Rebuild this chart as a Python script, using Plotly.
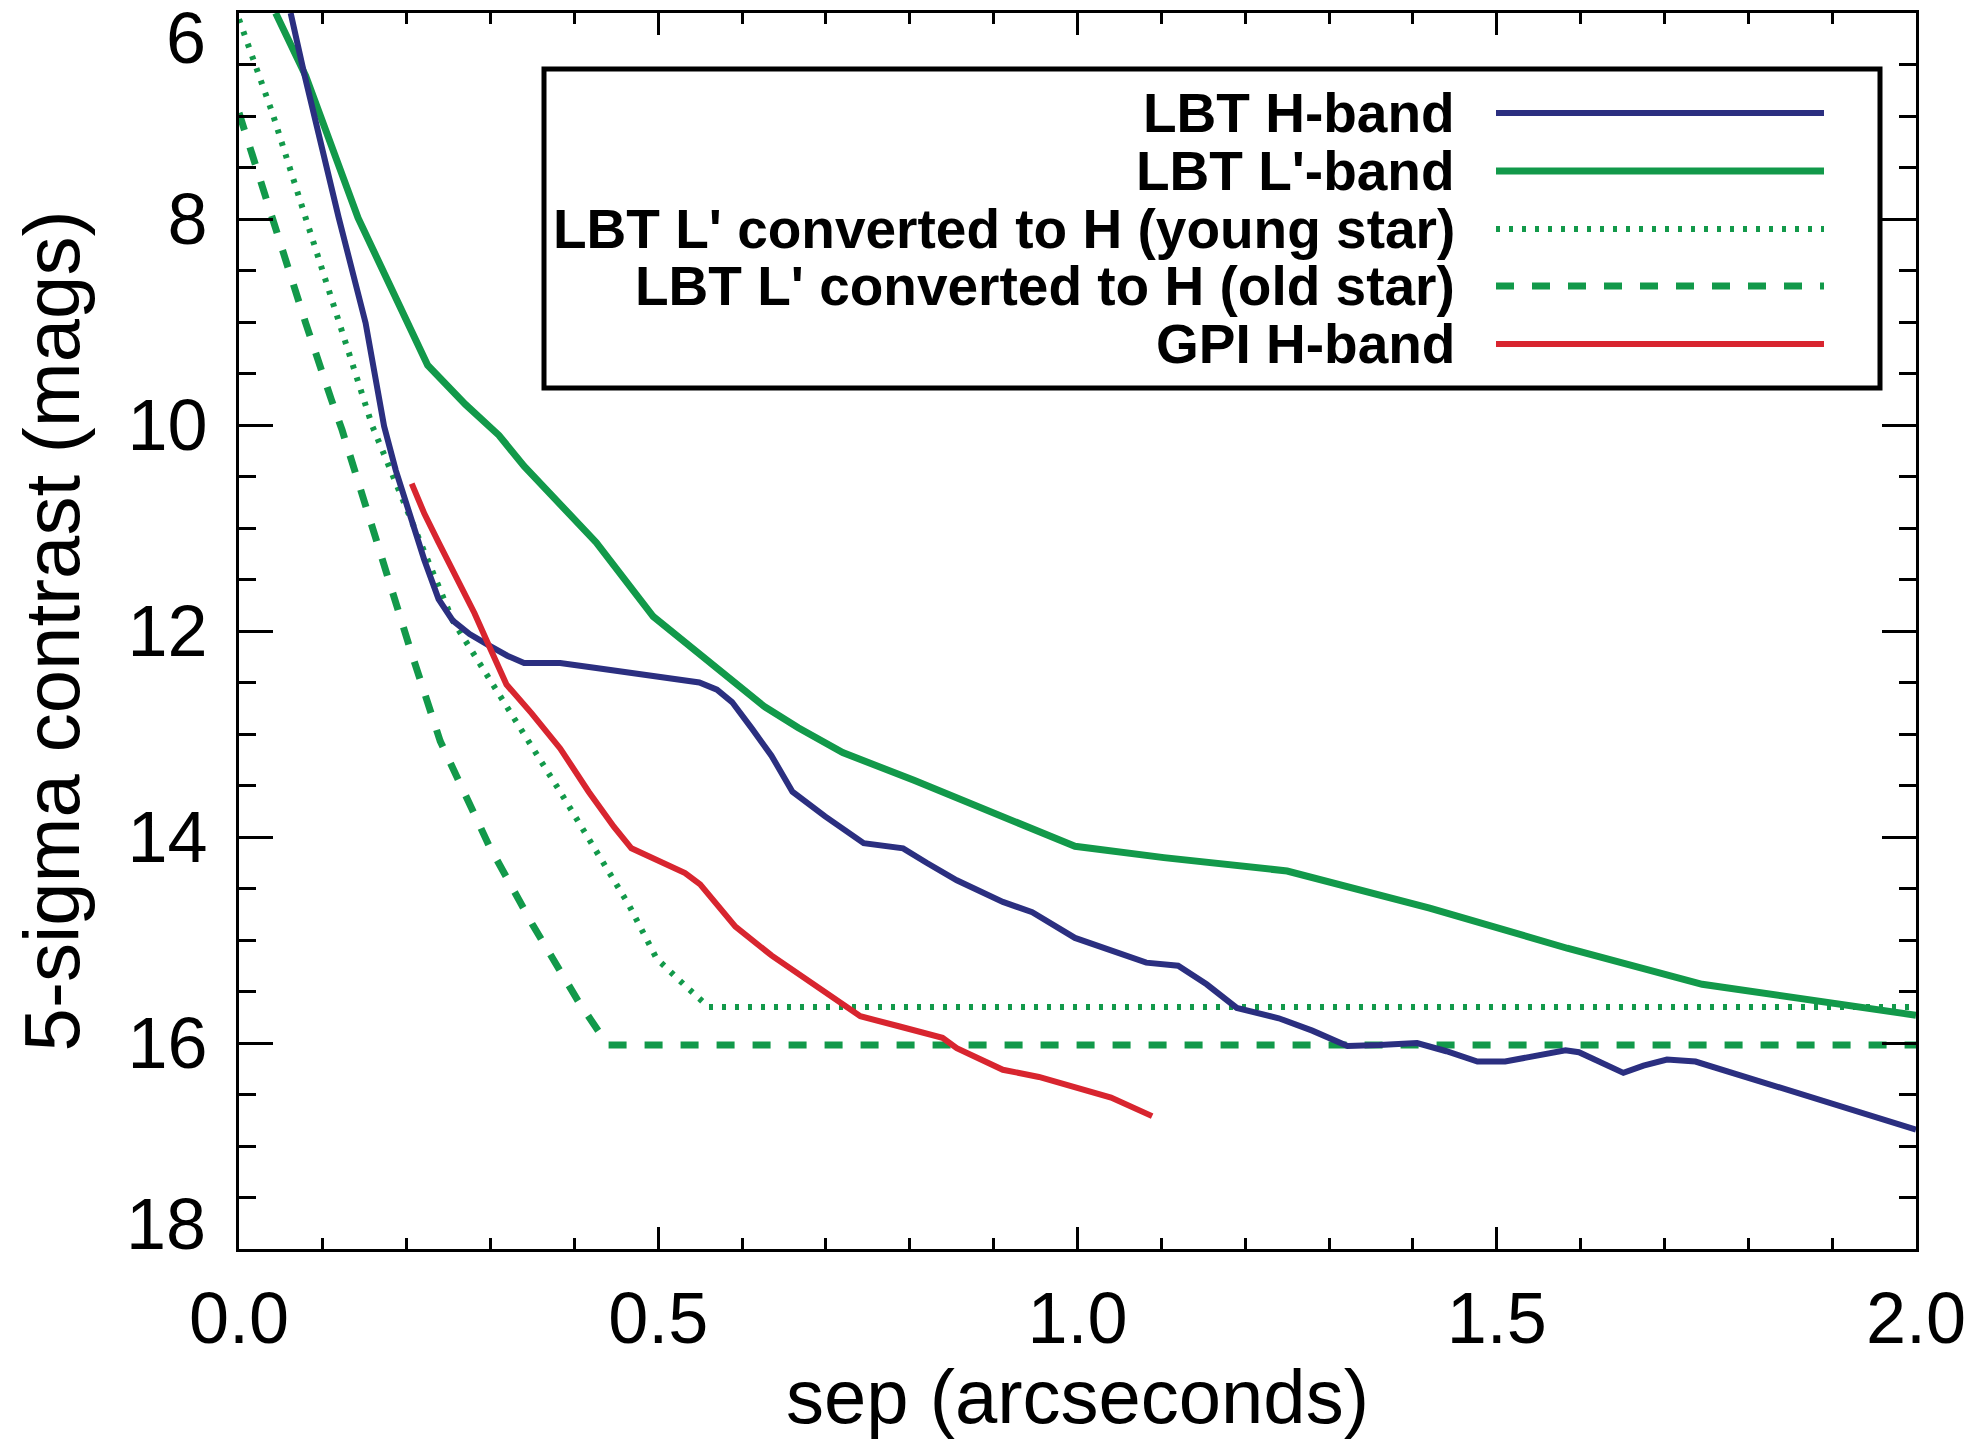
import plotly.graph_objects as go

# ---------------- data ----------------
lbt_h_sep = [0.0616, 0.0775, 0.119, 0.151, 0.173, 0.187, 0.221, 0.238, 0.255, 0.275,
             0.298, 0.320, 0.340, 0.383, 0.426, 0.490, 0.549, 0.570, 0.588, 0.612,
             0.635, 0.660, 0.699, 0.745, 0.792, 0.820, 0.856, 0.911, 0.946, 0.997,
             1.040, 1.082, 1.120, 1.154, 1.190, 1.240, 1.280, 1.322, 1.360, 1.405,
             1.440, 1.477, 1.510, 1.550, 1.582, 1.598, 1.625, 1.651, 1.675, 1.703,
             1.737, 2.000]
lbt_h_mag = [6.00, 6.58, 7.99, 9.01, 10.01, 10.44, 11.31, 11.69, 11.90, 12.03,
             12.14, 12.24, 12.31, 12.31, 12.36, 12.43, 12.50, 12.57, 12.69, 12.95,
             13.21, 13.56, 13.80, 14.06, 14.11, 14.25, 14.42, 14.63, 14.73, 14.98,
             15.10, 15.22, 15.25, 15.43, 15.66, 15.76, 15.88, 16.03, 16.02, 16.00,
             16.08, 16.18, 16.18, 16.12, 16.07, 16.09, 16.20, 16.29, 16.22, 16.16,
             16.18, 16.84]

lbt_l_sep = [0.0437, 0.0795, 0.142, 0.225, 0.270, 0.310, 0.340,
             0.426, 0.494, 0.553, 0.626, 0.667, 0.720, 0.805, 0.890, 0.997, 1.103,
             1.217, 1.250, 1.420, 1.584, 1.745, 1.858, 2.000]
lbt_l_mag = [6.00, 6.61, 7.99, 9.42, 9.80, 10.10, 10.40,
             11.14, 11.86, 12.24, 12.73, 12.94, 13.18, 13.45, 13.73, 14.09, 14.20,
             14.30, 14.33, 14.69, 15.08, 15.43, 15.56, 15.73]

young_sep = [0.0, 0.0398, 0.0795, 0.119, 0.159, 0.255, 0.383, 0.465, 0.498, 0.525, 0.560, 2.000]
young_mag = [6.06, 6.97, 7.99, 9.01, 10.01, 11.90, 13.56, 14.66, 15.18, 15.39, 15.65, 15.65]

old_sep = [0.0, 0.0398, 0.0795, 0.110, 0.123, 0.204, 0.240, 0.298, 0.350, 0.405, 0.440, 2.000]
old_mag = [6.97, 8.00, 9.01, 9.75, 10.05, 12.17, 13.07, 14.08, 14.85, 15.60, 16.02, 16.02]

gpi_sep = [0.206, 0.221, 0.238, 0.260, 0.281, 0.298, 0.319, 0.349, 0.383, 0.417,
           0.447, 0.468, 0.532, 0.550, 0.592, 0.635, 0.690, 0.741, 0.788, 0.839,
           0.856, 0.911, 0.954, 0.997, 1.040, 1.089]
gpi_mag = [10.57, 10.86, 11.14, 11.48, 11.83, 12.14, 12.52, 12.80, 13.14, 13.56,
           13.90, 14.11, 14.35, 14.46, 14.87, 15.15, 15.46, 15.74, 15.84, 15.95,
           16.05, 16.26, 16.33, 16.43, 16.53, 16.71]

series_names = ["LBT H-band", "LBT L'-band", "LBT L' converted to H (young star)",
                "LBT L' converted to H (old star)", "GPI H-band"]

x_tickvals = [0.0, 0.5, 1.0, 1.5, 2.0]
y_tickvals = [8, 10, 12, 14, 16]

# ---------------- styles ----------------
BLUE = "#2b2f80"
GREEN = "#12994a"
RED = "#d8252f"
FONT = "Liberation Sans, Arial, sans-serif"
DOT = "4px,9px"
DASH = "18px,18px"

styles = [
    dict(color=BLUE, width=6, dash="solid"),
    dict(color=GREEN, width=7, dash="solid"),
    dict(color=GREEN, width=6, dash=DOT),
    dict(color=GREEN, width=7, dash=DASH),
    dict(color=RED, width=6, dash="solid"),
]
data = [(lbt_h_sep, lbt_h_mag), (lbt_l_sep, lbt_l_mag), (young_sep, young_mag),
        (old_sep, old_mag), (gpi_sep, gpi_mag)]

fig = go.Figure()
for idx in [2, 3, 1, 0, 4]:
    xs, ys = data[idx]
    fig.add_trace(go.Scatter(x=xs, y=ys, mode="lines", name=series_names[idx],
                             line=styles[idx], showlegend=False, hoverinfo="skip"))

# page is 1974x1447 with an 8px body margin around the figure
OFF = 8
W, H = 1974 - 2 * OFF, 1447 - 2 * OFF
L, R, T, B = 231, 50, 5, 190

fig.update_layout(
    width=W, height=H,
    margin=dict(l=L, r=R, t=T, b=B, autoexpand=False),
    paper_bgcolor="white", plot_bgcolor="white",
    font=dict(family=FONT, color="black", size=72),
    showlegend=False,
)

fig.update_xaxes(
    range=[0, 2], tickmode="array", tickvals=x_tickvals,
    ticktext=[f"{v:.1f}" for v in x_tickvals],
    ticks="inside", ticklen=22, tickwidth=3, tickcolor="black",
    showline=True, linewidth=3, linecolor="black", mirror="allticks",
    showgrid=False, zeroline=False,
    tickfont=dict(family=FONT, size=72, color="black"),
    ticklabelstandoff=5, ticklabeloverflow="allow",
    minor=dict(dtick=0.1, tick0=0, ticks="inside", ticklen=11, tickwidth=3,
               tickcolor="black", showgrid=False),
    title=dict(text="sep (arcseconds)", font=dict(family=FONT, size=76, color="black"),
               standoff=47),
    automargin=False,
)
fig.update_yaxes(
    range=[18, 6], tickmode="array", tickvals=y_tickvals,
    ticktext=[str(v) for v in y_tickvals],
    ticks="inside", ticklen=34, tickwidth=3, tickcolor="black",
    showline=True, linewidth=3, linecolor="black", mirror="allticks",
    showgrid=False, zeroline=False,
    tickfont=dict(family=FONT, size=72, color="black"),
    ticklabelstandoff=14, ticklabeloverflow="allow",
    minor=dict(dtick=0.5, tick0=6, ticks="inside", ticklen=17, tickwidth=3,
               tickcolor="black", showgrid=False),
    title=dict(text="5-sigma contrast (mags)", font=dict(family=FONT, size=78, color="black"),
               standoff=26),
    automargin=False,
)

# end tick labels kept inside the frame, as in the reference
fig.add_annotation(text="6", xref="paper", yref="paper", x=0, y=1, xanchor="right",
                   yanchor="middle", xshift=-31, yshift=-25, showarrow=False,
                   font=dict(family=FONT, size=72, color="black"))
fig.add_annotation(text="18", xref="paper", yref="paper", x=0, y=0, xanchor="right",
                   yanchor="middle", xshift=-31, yshift=25, showarrow=False,
                   font=dict(family=FONT, size=72, color="black"))

# ---------------- hand-built legend (page pixel positions -> paper) ----------------
pw, ph = W - L - R, H - T - B
def px(xp):
    return (xp - OFF - L) / pw
def py(yp):
    return 1 - (yp - OFF - T) / ph

fig.add_shape(type="rect", xref="paper", yref="paper",
              x0=px(544), x1=px(1880), y0=py(388), y1=py(69),
              line=dict(color="black", width=5), fillcolor="white", layer="above")
rows = [113, 171, 229, 286, 344]
for i, yrow in enumerate(rows):
    st = styles[i]
    fig.add_shape(type="line", xref="paper", yref="paper",
                  x0=px(1496), x1=px(1824), y0=py(yrow), y1=py(yrow),
                  line=dict(color=st["color"], width=st["width"], dash=st["dash"]),
                  layer="above")
    fig.add_annotation(text=series_names[i], xref="paper", yref="paper",
                       x=px(1457), y=py(yrow), xanchor="right", yanchor="middle",
                       showarrow=False,
                       font=dict(family=FONT, size=55, color="black", weight="bold"))

fig.write_html("out.html")
